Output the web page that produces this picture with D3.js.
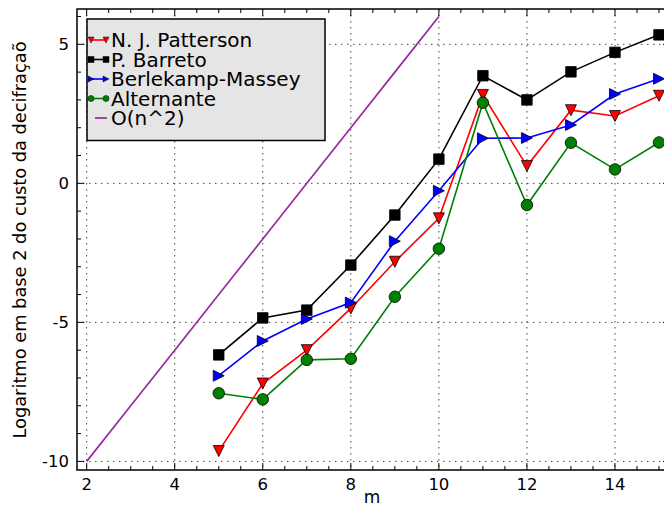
<!DOCTYPE html>
<html>
<head>
<meta charset="utf-8">
<script src="https://cdn.jsdelivr.net/npm/d3@7"></script>
<style>
  html, body { margin: 0; padding: 0; background: #fff; }
  svg { display: block; font-family: "DejaVu Sans", sans-serif; }
</style>
</head>
<body>
<svg id="chart" width="664" height="508"></svg>
<script>
// Field size m on the horizontal axis
const m = [5, 6, 7, 8, 9, 10, 11, 12, 13, 14, 15];

// log2 of decoding cost for each method
const patterson = [-9.63, -7.20, -6.00, -4.50, -2.82, -1.26, 3.18, 0.62, 2.63, 2.42, 3.15];
const barreto   = [-6.17, -4.84, -4.56, -2.94, -1.14, 0.87, 3.87, 3.00, 4.01, 4.71, 5.34];
const berlekamp = [-6.92, -5.67, -4.88, -4.29, -2.08, -0.27, 1.62, 1.63, 2.10, 3.21, 3.76];
const alternante = [-7.55, -7.77, -6.35, -6.31, -4.08, -2.35, 2.90, -0.78, 1.46, 0.50, 1.47];

// Reference growth curve O(n^2)
const refM = [2, 3, 4, 5, 6, 7, 8, 9, 10];
const refCost = [-10, -8, -6, -4, -2, 0, 2, 4, 6];

const xMajorTicks = [2, 4, 6, 8, 10, 12, 14];
const yMajorTicks = [-10, -5, 0, 5];
const xMinorTicks = d3.range(2, 15.01, 0.5);
const yMinorTicks = d3.range(-10, 6.01, 1);

const seriesNames = ["N. J. Patterson", "P. Barreto", "Berlekamp-Massey", "Alternante", "O(n^2)"];

const svg = d3.select("#chart");
const plotLeft = 77, plotTop = 9, plotBottom = 470, plotRight = 670;

const x = d3.scaleLinear().domain([1.78, 15.25]).range([plotLeft, plotRight]);
const y = d3.scaleLinear().domain([-10.31, 6.27]).range([plotBottom, plotTop]);

svg.append("defs").append("clipPath").attr("id", "plotclip")
  .append("rect").attr("x", plotLeft).attr("y", plotTop)
  .attr("width", plotRight - plotLeft).attr("height", plotBottom - plotTop);

// Dotted grid at major ticks
const grid = svg.append("g").attr("stroke", "#444").attr("stroke-width", 1)
  .attr("stroke-dasharray", "1.5,4.5");
grid.selectAll("line.gx").data(xMajorTicks).join("line")
  .attr("x1", d => x(d)).attr("x2", d => x(d)).attr("y1", plotTop).attr("y2", plotBottom);
grid.selectAll("line.gy").data(yMajorTicks).join("line")
  .attr("y1", d => y(d)).attr("y2", d => y(d)).attr("x1", plotLeft).attr("x2", plotRight);

// Ticks on all sides, pointing inward
const ticks = svg.append("g").attr("stroke", "#000").attr("stroke-width", 1);
function tickLen(v, majors) { return majors.some(t => Math.abs(t - v) < 1e-6) ? 7 : 4; }
xMinorTicks.forEach(v => {
  const L = tickLen(v, xMajorTicks);
  ticks.append("line").attr("x1", x(v)).attr("x2", x(v)).attr("y1", plotBottom).attr("y2", plotBottom - L);
  ticks.append("line").attr("x1", x(v)).attr("x2", x(v)).attr("y1", plotTop).attr("y2", plotTop + L);
});
yMinorTicks.forEach(v => {
  const L = tickLen(v, yMajorTicks);
  ticks.append("line").attr("y1", y(v)).attr("y2", y(v)).attr("x1", plotLeft).attr("x2", plotLeft + L);
  ticks.append("line").attr("y1", y(v)).attr("y2", y(v)).attr("x1", plotRight).attr("x2", plotRight - L);
});

// Frame
svg.append("rect").attr("x", plotLeft).attr("y", plotTop)
  .attr("width", plotRight - plotLeft).attr("height", plotBottom - plotTop)
  .attr("fill", "none").attr("stroke", "#000").attr("stroke-width", 1.5);

// Tick labels
svg.append("g").selectAll("text").data(xMajorTicks).join("text")
  .attr("x", d => x(d)).attr("y", 490).attr("text-anchor", "middle")
  .attr("font-size", 16.5).text(d => d);
svg.append("g").selectAll("text").data(yMajorTicks).join("text")
  .attr("x", 69).attr("y", d => y(d)).attr("dy", "0.36em").attr("text-anchor", "end")
  .attr("font-size", 16.5).text(d => d);

// Axis titles
svg.append("text").attr("x", 372).attr("y", 503).attr("text-anchor", "middle")
  .attr("font-size", 17).text("m");
svg.append("text").attr("transform", "translate(26,240) rotate(-90)")
  .attr("text-anchor", "middle").attr("font-size", 17.8)
  .text("Logaritmo em base 2 do custo da decifraçaõ");

// Marker shapes
function markerPath(kind, s) {
  const h = s / 2;
  if (kind === "v") return `M0,${h}L${-h},${-h}L${h},${-h}Z`;
  if (kind === ">") return `M${h},0L${-h},${-h}L${-h},${h}Z`;
  if (kind === "s") return `M${-h},${-h}H${h}V${h}H${-h}Z`;
  if (kind === "o") return d3.symbol(d3.symbolCircle, Math.PI * h * h)();
  return "";
}

const series = [
  { name: seriesNames[0], values: patterson, color: "#ff0000", marker: "v", size: 11 },
  { name: seriesNames[1], values: barreto, color: "#000000", marker: "s", size: 10.5 },
  { name: seriesNames[2], values: berlekamp, color: "#0000ff", marker: ">", size: 11 },
  { name: seriesNames[3], values: alternante, color: "#008000", marker: "o", size: 11.5 }
];

const plot = svg.append("g").attr("clip-path", "url(#plotclip)");
const line = d3.line().x(d => x(d[0])).y(d => y(d[1]));

// Reference curve
plot.append("path").datum(refM.map((v, i) => [v, refCost[i]]))
  .attr("d", line).attr("fill", "none").attr("stroke", "#972a9f").attr("stroke-width", 1.7);

series.forEach(s => {
  const pts = m.map((v, i) => [v, s.values[i]]);
  plot.append("path").datum(pts).attr("d", line)
    .attr("fill", "none").attr("stroke", s.color).attr("stroke-width", 1.6);
});
series.forEach(s => {
  const pts = m.map((v, i) => [v, s.values[i]]);
  plot.append("g").selectAll("path").data(pts).join("path")
    .attr("transform", d => `translate(${x(d[0])},${y(d[1])})`)
    .attr("d", markerPath(s.marker, s.size))
    .attr("fill", s.color).attr("stroke", "#000").attr("stroke-width", 0.8);
});

// Legend
const lg = svg.append("g");
lg.append("rect").attr("x", 87).attr("y", 19).attr("width", 238).attr("height", 121.5)
  .attr("fill", "#e5e5e5").attr("stroke", "#000").attr("stroke-width", 1.5);
const rowY = [40, 59.5, 79, 98.5, 118];
series.forEach((s, i) => {
  const g = lg.append("g").attr("transform", `translate(0,${rowY[i]})`);
  g.append("line").attr("x1", 91).attr("x2", 106).attr("y1", 0).attr("y2", 0)
    .attr("stroke", s.color).attr("stroke-width", 1.6);
  [91, 106].forEach(px => {
    g.append("path").attr("transform", `translate(${px},0)`)
      .attr("d", markerPath(s.marker, 6))
      .attr("fill", s.color).attr("stroke", "#000").attr("stroke-width", 0.5);
  });
  g.append("text").attr("x", 111).attr("y", 0).attr("dy", "0.36em")
    .attr("font-size", 20).text(s.name);
});
{
  const g = lg.append("g").attr("transform", `translate(0,${rowY[4]})`);
  g.append("line").attr("x1", 95).attr("x2", 107).attr("y1", 0).attr("y2", 0)
    .attr("stroke", "#972a9f").attr("stroke-width", 1.7);
  g.append("text").attr("x", 111).attr("y", 0).attr("dy", "0.36em")
    .attr("font-size", 20).text(seriesNames[4]);
}
</script>
</body>
</html>
